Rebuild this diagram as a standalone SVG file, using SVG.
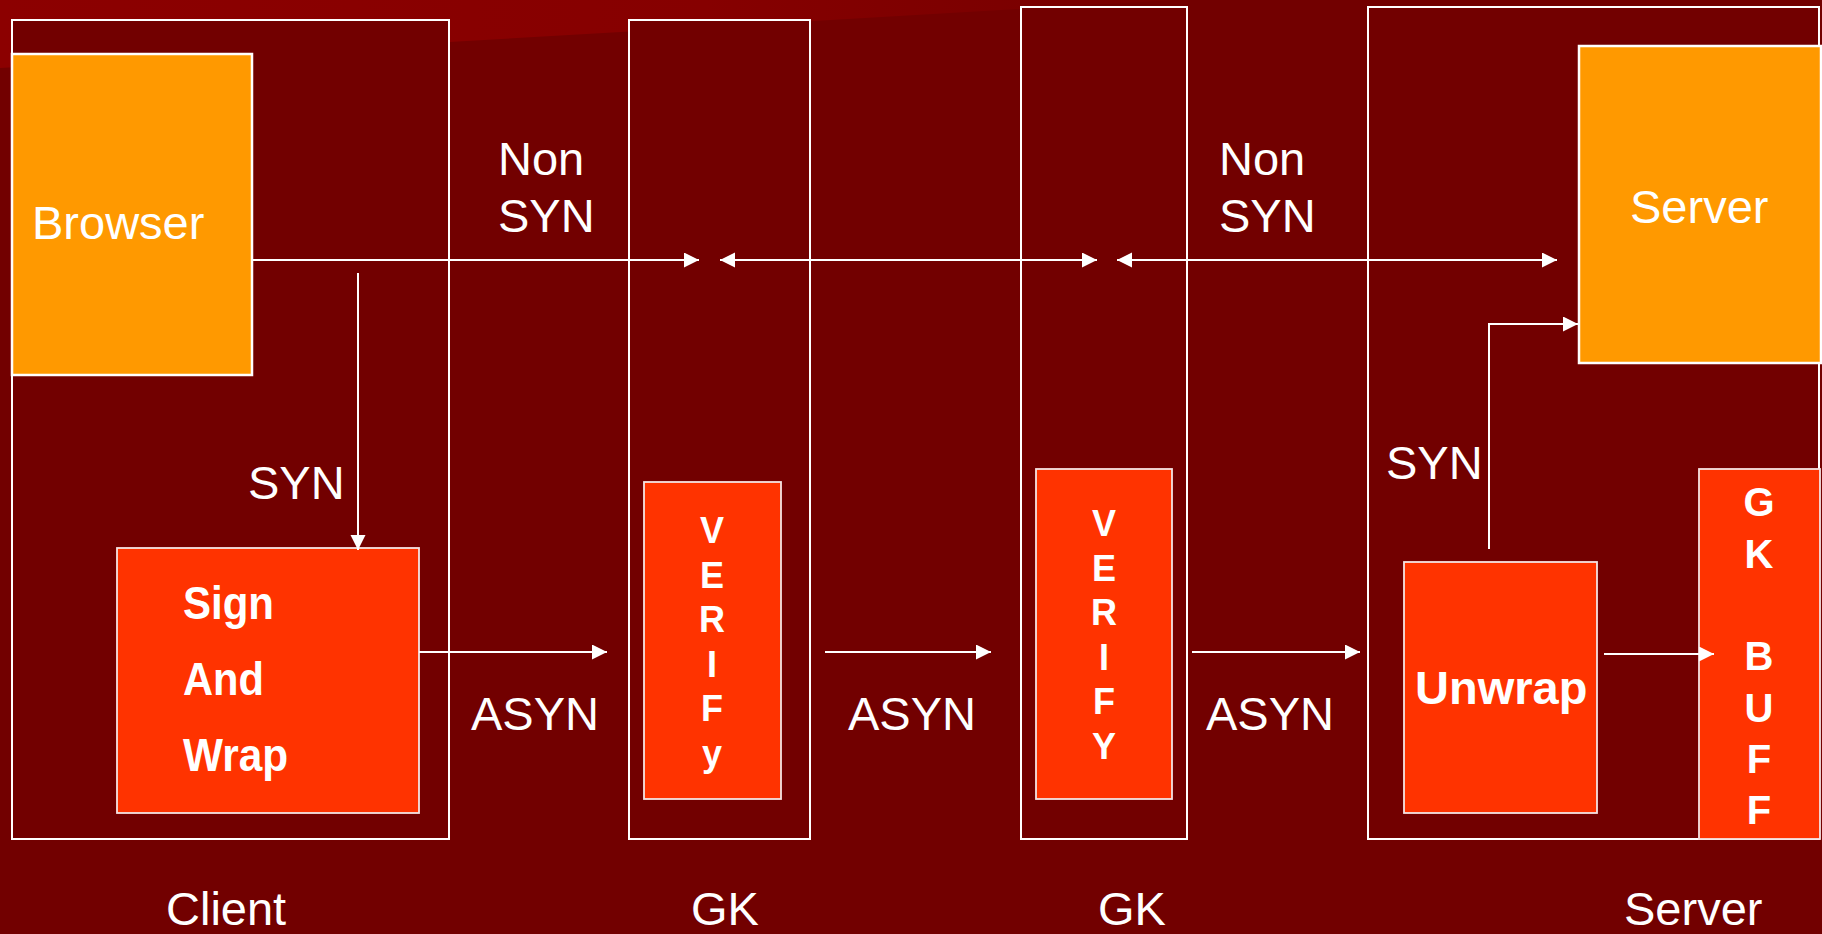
<svg xmlns="http://www.w3.org/2000/svg" width="1822" height="934" viewBox="0 0 1822 934">
<style>
.t{font-family:"Liberation Sans",Arial,Helvetica,sans-serif;font-size:47px;fill:#ffffff}
.b{font-weight:bold}
.v{font-family:"Liberation Sans",Arial,Helvetica,sans-serif;font-weight:bold;font-size:36px;fill:#ffffff;text-anchor:middle}
.g{font-family:"Liberation Sans",Arial,Helvetica,sans-serif;font-weight:bold;font-size:40px;fill:#ffffff;text-anchor:middle}
.outer{fill:#720000;stroke:#ffffff;stroke-width:2}
.orange{fill:#ff9900;stroke:#ffffff;stroke-width:2.5}
.red{fill:#ff3300;stroke:#f4e4e4;stroke-width:1.8}
.c{stroke:#ffffff;stroke-width:2;fill:none}
</style>
<defs>
<linearGradient id="band" x1="0" y1="0" x2="1" y2="0">
<stop offset="0" stop-color="#8c0000"/>
<stop offset="0.6" stop-color="#860000"/>
<stop offset="1" stop-color="#760000"/>
</linearGradient>
<marker id="ah" markerUnits="userSpaceOnUse" markerWidth="16" markerHeight="16" refX="15" refY="7.5" orient="auto-start-reverse">
<path d="M0,0 L15,7.5 L0,15 Z" fill="#ffffff"/>
</marker>
</defs>
<rect x="0" y="0" width="1822" height="934" fill="#720000"/>
<polygon points="0,0 1175,0 0,68" fill="url(#band)"/>

<g id="client-container"><rect class="outer" x="12" y="20" width="437" height="819"/></g>
<g id="gk1-container"><rect class="outer" x="629" y="20" width="181" height="819"/></g>
<g id="gk2-container"><rect class="outer" x="1021" y="7" width="166" height="832"/></g>
<g id="server-container"><rect class="outer" x="1368" y="7" width="451" height="832"/></g>

<g id="browser"><rect class="orange" x="12" y="54" width="240" height="321"/><text class="t" x="32" y="239">Browser</text></g>
<g id="server"><rect class="orange" x="1579" y="46" width="242" height="317"/><text class="t" x="1630" y="223">Server</text></g>

<g id="sign-and-wrap"><rect class="red" x="117" y="548" width="302" height="265"/>
<text class="t b" font-size="43" x="183" y="619" textLength="91" lengthAdjust="spacingAndGlyphs">Sign</text>
<text class="t b" font-size="43" x="183" y="695" textLength="81" lengthAdjust="spacingAndGlyphs">And</text>
<text class="t b" font-size="43" x="183" y="771" textLength="105" lengthAdjust="spacingAndGlyphs">Wrap</text></g>

<g id="verify1"><rect class="red" x="644" y="482" width="137" height="317"/>
<text class="v" x="712" y="543">V</text><text class="v" x="712" y="587.6">E</text><text class="v" x="712" y="632.2">R</text><text class="v" x="712" y="676.8">I</text><text class="v" x="712" y="721.4">F</text><text class="v" x="712" y="766">y</text></g>

<g id="verify2"><rect class="red" x="1036" y="469" width="136" height="330"/>
<text class="v" x="1104" y="536">V</text><text class="v" x="1104" y="580.6">E</text><text class="v" x="1104" y="625.2">R</text><text class="v" x="1104" y="669.8">I</text><text class="v" x="1104" y="714.4">F</text><text class="v" x="1104" y="759">Y</text></g>

<g id="unwrap"><rect class="red" x="1404" y="562" width="193" height="251"/><text class="t b" x="1415" y="704">Unwrap</text></g>

<g id="gk-buff"><rect class="red" x="1699" y="469" width="121" height="370"/>
<text class="g" x="1759" y="516">G</text><text class="g" x="1759" y="567.5">K</text><text class="g" x="1759" y="670">B</text><text class="g" x="1759" y="721.5">U</text><text class="g" x="1759" y="772.5">F</text><text class="g" x="1759" y="823.5">F</text></g>

<g id="connectors">
<line class="c" x1="252" y1="260" x2="699" y2="260" marker-end="url(#ah)"/>
<line class="c" x1="720" y1="260" x2="1097" y2="260" marker-start="url(#ah)" marker-end="url(#ah)"/>
<line class="c" x1="1117" y1="260" x2="1557" y2="260" marker-start="url(#ah)" marker-end="url(#ah)"/>
<line class="c" x1="358" y1="273" x2="358" y2="550" marker-end="url(#ah)"/>
<line class="c" x1="419" y1="652" x2="607" y2="652" marker-end="url(#ah)"/>
<line class="c" x1="825" y1="652" x2="991" y2="652" marker-end="url(#ah)"/>
<line class="c" x1="1192" y1="652" x2="1360" y2="652" marker-end="url(#ah)"/>
<polyline class="c" points="1489,549 1489,324 1578,324" marker-end="url(#ah)"/>
<line class="c" x1="1604" y1="654" x2="1714" y2="654" marker-end="url(#ah)"/>
</g>

<g id="labels">
<text class="t" x="498" y="175">Non</text><text class="t" x="498" y="232">SYN</text>
<text class="t" x="1219" y="175">Non</text><text class="t" x="1219" y="232">SYN</text>
<text class="t" x="248" y="499">SYN</text>
<text class="t" x="1386" y="479">SYN</text>
<text class="t" x="471" y="730">ASYN</text>
<text class="t" x="848" y="730">ASYN</text>
<text class="t" x="1206" y="730">ASYN</text>
<text class="t" x="166" y="925">Client</text>
<text class="t" x="691" y="925">GK</text>
<text class="t" x="1098" y="925">GK</text>
<text class="t" x="1624" y="925">Server</text>
</g>
</svg>
